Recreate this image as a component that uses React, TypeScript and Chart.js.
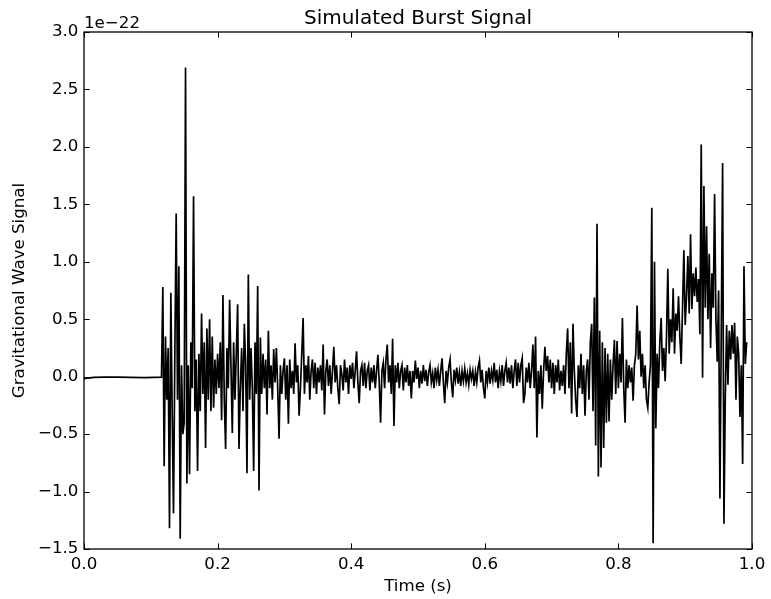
import React, { useEffect, useRef } from "react";
import { Chart, registerables } from "chart.js";

Chart.register(...registerables);

// Quiet part before the burst (time in s, strain in units of 1e-22)
const QUIET_TIMES = [0, 0.005, 0.015, 0.03, 0.05, 0.07, 0.09, 0.105, 0.116];
const QUIET_VALUES = [-0.02, -0.012, -0.006, -0.004, -0.004, -0.006, -0.008, -0.006, -0.004];

// Regularly sampled part of the signal
const SAMPLE_START = 0.118;
const SAMPLE_STEP = 0.002;

const BURST_VALUES = [
  0.78, -0.78, 0.35, -0.2, 0.25, -1.32, 0.73, -0.3, -1.19, 0.2,
  1.42, -0.2, 0.96, -1.41, 0.1, -0.5, -0.4, 2.69, -0.93, 0.1,
  -0.85, 0.3, -0.1, 1.57, -0.3, 0.15, -0.82, 0.2, -0.3, 0.55,
  -0.15, 0.3, -0.62, 0.42, -0.2, 0.5, -0.3, 0.35, -0.27, 0.15,
  -0.15, 0.2, -0.1, 0.3, -0.38, 0.71, -0.2, -0.63, 0.25, -0.1,
  0.67, 0.1, -0.49, 0.3, -0.2, 0.2, 0.63, -0.63, -0.1, 0.25,
  -0.3, 0.46, 0.1, -0.84, 0.89, -0.2, 0.25, -0.1, -0.82, 0.3,
  -0.15, 0.79, -0.99, 0.34, -0.15, 0.2, -0.1, 0.15, -0.33, 0.4,
  -0.1, 0.1, -0.2, 0.24, -0.05, 0.25, -0.1, -0.54,
];

const DECAY_VALUES = [
  0.1, -0.15, 0.05, 0.16, -0.2, 0.1, -0.41, 0.15, -0.1, 0.05,
  -0.15, 0.29, -0.05, 0.1, -0.34, -0.1, 0.2, 0.51, -0.15, 0.1,
  -0.05, 0.18, -0.2, 0.05, 0.15, -0.1, 0.12, -0.15, 0.08, -0.05,
  0.1, -0.12, 0.28, -0.33, 0.05, 0.15, -0.08, 0.1, -0.15, 0.05,
  0.26, -0.05, 0.1, -0.1, -0.24, 0.1, 0.02, -0.12, 0.15, -0.05,
  0.08, -0.15, 0.1, -0.02, 0.12, -0.1, 0.05, 0.22, -0.05, -0.23,
  0.05, 0.1, -0.08, 0.12, -0.1, 0.05, 0.1, -0.12, 0.08, -0.05,
  0.1, -0.1, 0.05, 0.19, -0.05, -0.4, 0.05, 0.12, -0.1, 0.15,
  0.28, -0.05, 0.1, -0.15, 0.33, -0.43, 0.1, -0.05, 0.12, -0.1,
  0.05, 0.1, -0.12, 0.08, -0.05, 0.1, -0.08, 0.05, -0.19, 0.05,
  -0.05, 0.14, -0.02, 0.08, -0.1, 0.05, -0.06, 0.1, -0.04, 0.06,
  -0.08, 0.04, 0.1, -0.05, 0.03, -0.1, 0.08, -0.03, 0.06, -0.08,
  0.05, 0.16, -0.05, -0.23, 0.05, -0.05, 0.08, 0.15, -0.05, -0.18,
  0.06, -0.03, 0.08, -0.06, 0.04, -0.08, 0.05, -0.04, 0.07, -0.05,
  0.03, -0.07, 0.06, -0.02, 0.05, -0.08, 0.04, -0.05, 0.08, 0.14,
  -0.05, 0.06, -0.1, -0.19,
];

const RISE_VALUES = [
  0.05, -0.05, 0.08, -0.06, 0.05, -0.03, 0.12, -0.05, 0.06, -0.1,
  0.05, -0.04, 0.1, -0.08, 0.05, 0.12, -0.05, 0.08, -0.06, 0.1,
  -0.1, 0.05, 0.15, -0.08, 0.12, -0.05, 0.1, 0.16, -0.23, -0.15,
  0.08, -0.05, 0.12, -0.1, 0.05, 0.28, -0.1, 0.35, -0.53, 0.05,
  -0.15, 0.1, -0.28, 0.05, 0.26, 0.05, 0.18, -0.05, 0.15, -0.1,
  0.12, -0.15, 0.1, -0.05, 0.15, -0.12, 0.05, -0.08, 0.1, -0.15,
  0.2, 0.42, -0.1, 0.3, -0.32, 0.46, 0.05, -0.2, -0.35, 0.1,
  -0.1, 0.2, -0.15, 0.1, -0.34, 0.05, 0.15, -0.2, 0.3, 0.46,
  -0.3, 0.69, -0.6, 1.33, -0.87, 0.4, -0.79, 0.3, -0.62, 0.25,
  -0.4, 0.2, -0.39, 0.15, -0.2, 0.1, 0.32, -0.15, 0.31, -0.1,
  0.2, -0.05, 0.51, -0.1, -0.4, 0.15, -0.1, 0.1, -0.05, 0.08,
  -0.21, 0.1, 0.2, 0.62, 0.15, 0.4, 0.0, 0.2, -0.1, 0.1,
  -0.2, -0.27, -0.05, 0.1,
];

const MERGER_VALUES = [
  1.47, -1.45, 1.0, -0.45, 0.2, -0.1, 0.3, 0.51, 0.05, 0.25,
  -0.04, 0.35, 0.94, 0.2, 0.5, 0.3, 0.77, 0.2, 0.55, 0.4,
  0.7, 0.35, 0.11, 0.6, 1.1, 0.45, 0.7, 1.05, 0.55, 1.24,
  0.59, 0.9, 0.7, 0.95, 0.65, 0.85, 0.37, 2.02, -0.01, 1.66,
  0.6, 1.31, 0.5, 1.07, 0.25, 0.9, 0.6, 1.59, 0.5, 0.13,
  0.75, -1.06, 0.4, 1.86, -1.28, -0.19, 0.45, -0.07, 0.4, 0.15,
  0.45, 0.2, 0.47, -0.2, 0.35, 0.2, -0.35, 0.1, -0.76, 0.96,
  0.11, 0.3,
];

const X_MIN = 0;
const X_MAX = 1.0;
const X_STEP = 0.2;
const Y_MIN = -1.5;
const Y_MAX = 3.0;
const Y_STEP = 0.5;

const TITLE = "Simulated Burst Signal";
const X_LABEL = "Time (s)";
const Y_LABEL = "Gravitational Wave Signal";
const OFFSET_TEXT = "1e\u221222";

const FONT_FAMILY = '"DejaVu Sans", "Liberation Sans", sans-serif';
const LABEL_SIZE = 16.67;
const TITLE_SIZE = 20;

const fmt = (v: number | string) => Number(v).toFixed(1).replace("-", "\u2212");

export default function App() {
  const canvasRef = useRef<HTMLCanvasElement | null>(null);

  useEffect(() => {
    const canvas = canvasRef.current;
    if (!canvas) return;

    const sampled = [...BURST_VALUES, ...DECAY_VALUES, ...RISE_VALUES, ...MERGER_VALUES];
    const points = [
      ...QUIET_TIMES.map((t, i) => ({ x: t, y: QUIET_VALUES[i] })),
      ...sampled.map((v, i) => ({ x: SAMPLE_START + i * SAMPLE_STEP, y: v })),
    ];

    const framePlugin = {
      id: "mplFrame",
      afterDraw(chart: any) {
        const { ctx, chartArea } = chart;
        const { left, top, right, bottom } = chartArea;
        const xs = chart.scales.x;
        const ys = chart.scales.y;
        const tl = 5.6;
        ctx.save();
        ctx.strokeStyle = "#000";
        ctx.lineWidth = 1;
        ctx.beginPath();
        xs.ticks.forEach((t: any) => {
          const px = Math.round(xs.getPixelForValue(t.value)) + 0.5;
          ctx.moveTo(px, bottom);
          ctx.lineTo(px, bottom - tl);
          ctx.moveTo(px, top);
          ctx.lineTo(px, top + tl);
        });
        ys.ticks.forEach((t: any) => {
          const py = Math.round(ys.getPixelForValue(t.value)) + 0.5;
          ctx.moveTo(left, py);
          ctx.lineTo(left + tl, py);
          ctx.moveTo(right, py);
          ctx.lineTo(right - tl, py);
        });
        ctx.stroke();
        ctx.lineWidth = 1.3;
        ctx.strokeRect(left, top, right - left, bottom - top);

        ctx.fillStyle = "#000";
        ctx.font = `${TITLE_SIZE}px ${FONT_FAMILY}`;
        ctx.textAlign = "center";
        ctx.textBaseline = "alphabetic";
        ctx.fillText(TITLE, (left + right) / 2, 24);

        ctx.font = `${LABEL_SIZE}px ${FONT_FAMILY}`;
        ctx.textAlign = "left";
        ctx.fillText(OFFSET_TEXT, left, 27.5);
        ctx.restore();
      },
    };

    const tickFont = { family: FONT_FAMILY, size: LABEL_SIZE };

    const chart = new Chart(canvas, {
      type: "line",
      data: {
        datasets: [
          {
            data: points,
            borderColor: "#000",
            borderWidth: 1.7,
            borderJoinStyle: "miter",
            pointRadius: 0,
            tension: 0,
            fill: false,
          },
        ],
      },
      options: {
        animation: false,
        responsive: false,
        events: [],
        layout: { padding: { left: 0, right: 19, top: 32, bottom: 0 } },
        plugins: {
          legend: { display: false },
          tooltip: { enabled: false },
          title: { display: false },
        },
        scales: {
          x: {
            type: "linear",
            min: X_MIN,
            max: X_MAX,
            grid: { display: false, drawTicks: false },
            border: { display: false },
            ticks: {
              stepSize: X_STEP,
              padding: 5.6,
              color: "#000",
              font: tickFont,
              maxRotation: 0,
              autoSkip: false,
              callback: (v: any) => fmt(v),
            },
            title: {
              display: true,
              text: X_LABEL,
              color: "#000",
              font: tickFont,
              padding: { top: 0, bottom: 2 },
            },
            afterFit: (s: any) => {
              s.height = 50;
            },
          },
          y: {
            type: "linear",
            min: Y_MIN,
            max: Y_MAX,
            grid: { display: false, drawTicks: false },
            border: { display: false },
            ticks: {
              stepSize: Y_STEP,
              padding: 5.6,
              color: "#000",
              font: tickFont,
              autoSkip: false,
              callback: (v: any) => fmt(v),
            },
            title: {
              display: true,
              text: Y_LABEL,
              color: "#000",
              font: tickFont,
              padding: { top: 10, bottom: 0 },
            },
            afterFit: (s: any) => {
              s.width = 84;
            },
          },
        },
      },
      plugins: [framePlugin],
    } as any);

    return () => chart.destroy();
  }, []);

  return (
    <div style={{ position: "fixed", left: 0, top: 0, width: 771, height: 599, background: "#fff" }}>
      <canvas ref={canvasRef} width={771} height={599} style={{ display: "block" }} />
    </div>
  );
}
